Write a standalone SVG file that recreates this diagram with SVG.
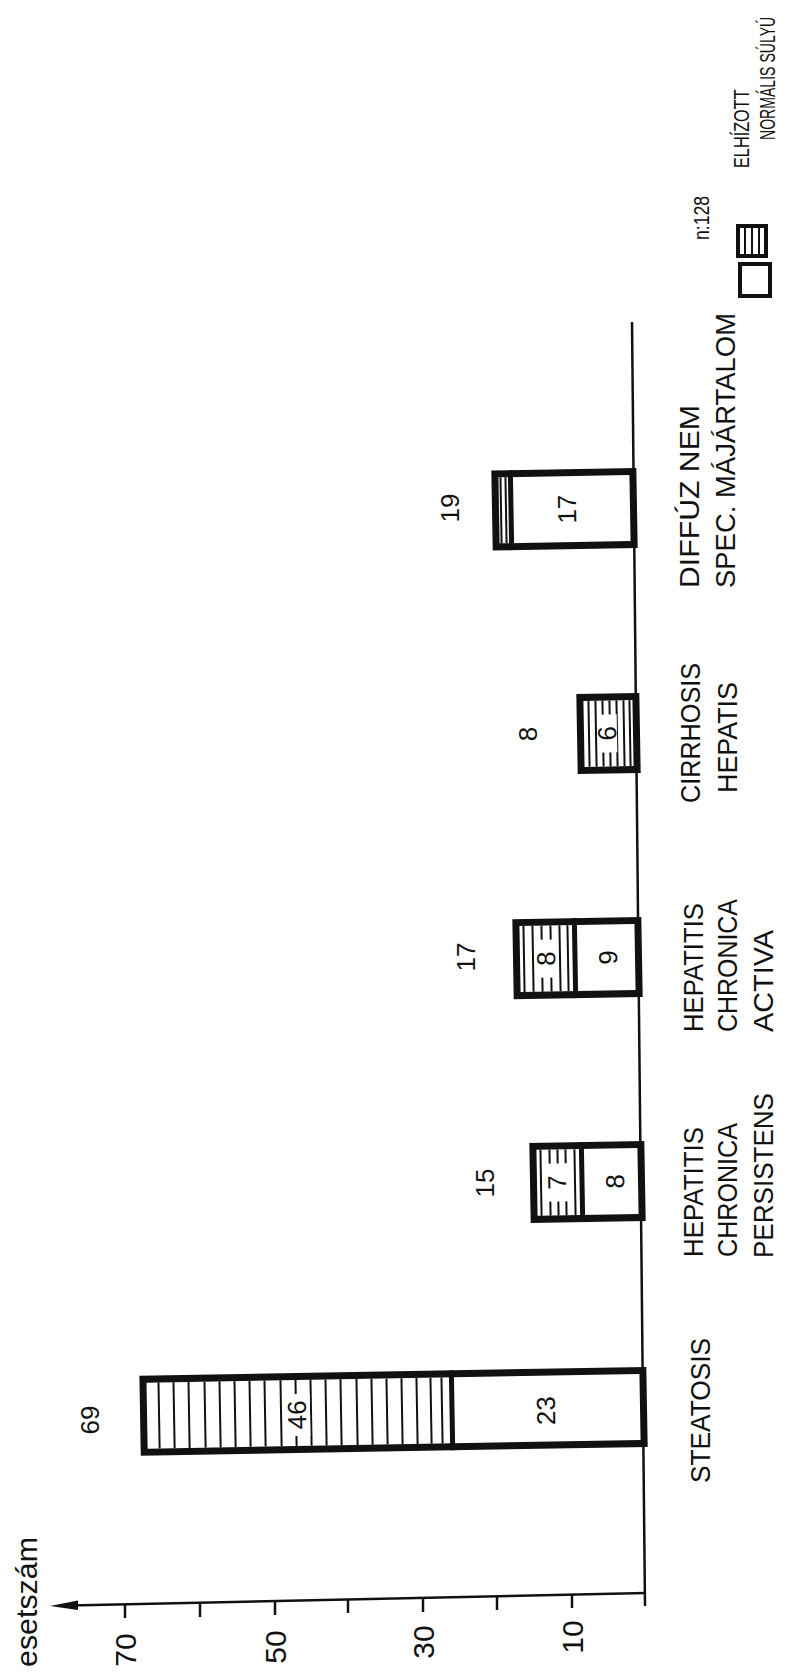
<svg xmlns="http://www.w3.org/2000/svg" width="789" height="1678" viewBox="0 0 789 1678">
<style>
text{font-family:"Liberation Sans","DejaVu Sans",sans-serif;fill:#111}
.num{font-size:26px;text-anchor:middle}
.tick{font-size:30px;text-anchor:middle}
.cat{font-size:28px}
.leg{font-size:22px}
.bar{fill:#fff;stroke:#111;stroke-width:7}
.div{stroke:#111;stroke-width:5}
.h{stroke:#111;stroke-width:2}
.ax{stroke:#111;stroke-width:2.5;fill:none}
.wb{fill:#fff}
</style>
<rect width="789" height="1678" fill="#fff"/>
<g id="axes">
<line class="ax" x1="632" y1="322" x2="645" y2="1606"/>
<line class="ax" x1="70" y1="1605.5" x2="646" y2="1593"/>
<polygon points="50,1606 78,1600.5 78,1610" fill="#111"/>
<g class="ax">
<line x1="125" y1="1604.4" x2="125" y2="1618"/>
<line x1="200" y1="1602.7" x2="200" y2="1617"/>
<line x1="275" y1="1601" x2="275" y2="1615"/>
<line x1="348" y1="1599.5" x2="348" y2="1613"/>
<line x1="423" y1="1597.9" x2="423" y2="1612"/>
<line x1="497" y1="1596.3" x2="497" y2="1610"/>
<line x1="572" y1="1594.6" x2="572" y2="1608"/>
</g>
<text class="tick" transform="translate(136,1650) rotate(-90)">70</text>
<text class="tick" transform="translate(286,1647) rotate(-90)">50</text>
<text class="tick" transform="translate(434,1642) rotate(-90)">30</text>
<text class="tick" transform="translate(583,1637) rotate(-90)">10</text>
<text style="font-size:30px" transform="translate(37,1667) rotate(-90)" textLength="130" lengthAdjust="spacingAndGlyphs">esetszám</text>
</g>
<g id="bar-steatosis" transform="rotate(-1 643 1407)">
<rect class="bar" x="143.5" y="1370.5" width="500" height="73"/>
<g class="h">
<line x1="159" y1="1374" x2="159" y2="1440"/><line x1="174" y1="1374" x2="174" y2="1440"/>
<line x1="189" y1="1374" x2="189" y2="1440"/><line x1="205" y1="1374" x2="205" y2="1440"/>
<line x1="220" y1="1374" x2="220" y2="1440"/><line x1="235" y1="1374" x2="235" y2="1440"/>
<line x1="250" y1="1374" x2="250" y2="1440"/><line x1="265" y1="1374" x2="265" y2="1440"/>
<line x1="281" y1="1374" x2="281" y2="1440"/><line x1="296" y1="1374" x2="296" y2="1440"/>
<line x1="311" y1="1374" x2="311" y2="1440"/><line x1="326" y1="1374" x2="326" y2="1440"/>
<line x1="341" y1="1374" x2="341" y2="1440"/><line x1="357" y1="1374" x2="357" y2="1440"/>
<line x1="372" y1="1374" x2="372" y2="1440"/><line x1="387" y1="1374" x2="387" y2="1440"/>
<line x1="402" y1="1374" x2="402" y2="1440"/><line x1="417" y1="1374" x2="417" y2="1440"/>
<line x1="431" y1="1374" x2="431" y2="1440"/><line x1="442" y1="1374" x2="442" y2="1440"/>
</g>
<line class="div" x1="452" y1="1367" x2="452" y2="1447"/>
<rect class="wb" x="283" y="1388" width="27" height="42"/>
<text class="num" transform="translate(306,1409) rotate(-90)">46</text>
<text class="num" transform="translate(555,1409) rotate(-90)">23</text>
</g>
<text class="num" transform="translate(99,1420) rotate(-90)">69</text>
<g id="bar-persistens" transform="rotate(-1 641 1181)">
<rect class="bar" x="533.5" y="1144.5" width="108" height="73"/>
<g class="h">
<line x1="541" y1="1148" x2="541" y2="1214"/><line x1="550" y1="1148" x2="550" y2="1214"/>
<line x1="558" y1="1148" x2="558" y2="1214"/><line x1="566" y1="1148" x2="566" y2="1214"/>
<line x1="575" y1="1148" x2="575" y2="1214"/>
</g>
<line class="div" x1="582" y1="1141" x2="582" y2="1221"/>
<rect class="wb" x="545" y="1162" width="25" height="38"/>
<text class="num" transform="translate(566,1181) rotate(-90)">7</text>
<text class="num" transform="translate(624,1181) rotate(-90)">8</text>
</g>
<text class="num" transform="translate(494,1183) rotate(-90)">15</text>
<g id="bar-activa" transform="rotate(-1 638 957)">
<rect class="bar" x="516.5" y="920.5" width="122" height="73"/>
<g class="h">
<line x1="524" y1="924" x2="524" y2="990"/><line x1="533" y1="924" x2="533" y2="990"/>
<line x1="542" y1="924" x2="542" y2="990"/><line x1="551" y1="924" x2="551" y2="990"/>
<line x1="560" y1="924" x2="560" y2="990"/><line x1="568" y1="924" x2="568" y2="990"/>
</g>
<line class="div" x1="575" y1="917" x2="575" y2="997"/>
<rect class="wb" x="535" y="938" width="23" height="38"/>
<text class="num" transform="translate(555,957) rotate(-90)">8</text>
<text class="num" transform="translate(617,957) rotate(-90)">9</text>
</g>
<text class="num" transform="translate(475,957) rotate(-90)">17</text>
<g id="bar-cirrhosis" transform="rotate(-1 636 733)">
<rect class="bar" x="580.5" y="696.5" width="56" height="73"/>
<g class="h">
<line x1="589" y1="700" x2="589" y2="766"/><line x1="596" y1="700" x2="596" y2="766"/>
<line x1="603" y1="700" x2="603" y2="766"/><line x1="610" y1="700" x2="610" y2="766"/>
<line x1="617" y1="700" x2="617" y2="766"/><line x1="624" y1="700" x2="624" y2="766"/>
<line x1="630" y1="700" x2="630" y2="766"/>
</g>
<rect class="wb" x="598" y="714" width="19" height="38"/>
<text class="num" transform="translate(616,733) rotate(-90)">6</text>
</g>
<text class="num" transform="translate(537,734) rotate(-90)">8</text>
<g id="bar-diffuz" transform="rotate(-1 634 508)">
<rect class="bar" x="495.5" y="471.5" width="138" height="73"/>
<g class="h">
<line x1="501" y1="475" x2="501" y2="541"/><line x1="506" y1="475" x2="506" y2="541"/>
</g>
<line class="div" stroke-width="4" x1="511" y1="468" x2="511" y2="548"/>
<text class="num" transform="translate(576,508) rotate(-90)">17</text>
</g>
<text class="num" transform="translate(459,508) rotate(-90)">19</text>
<g id="labels">
<text class="cat" transform="translate(710,1483) rotate(-90)" textLength="145" lengthAdjust="spacingAndGlyphs">STEATOSIS</text>
<text class="cat" transform="translate(703,1257) rotate(-90)" textLength="130" lengthAdjust="spacingAndGlyphs">HEPATITIS</text>
<text class="cat" transform="translate(737,1257) rotate(-90)" textLength="134" lengthAdjust="spacingAndGlyphs">CHRONICA</text>
<text class="cat" transform="translate(773,1258) rotate(-90)" textLength="165" lengthAdjust="spacingAndGlyphs">PERSISTENS</text>
<text class="cat" transform="translate(703,1032) rotate(-90)" textLength="129" lengthAdjust="spacingAndGlyphs">HEPATITIS</text>
<text class="cat" transform="translate(737,1032) rotate(-90)" textLength="133" lengthAdjust="spacingAndGlyphs">CHRONICA</text>
<text class="cat" transform="translate(773,1032) rotate(-90)" textLength="102" lengthAdjust="spacingAndGlyphs">ACTIVA</text>
<text class="cat" transform="translate(700,803) rotate(-90)" textLength="140" lengthAdjust="spacingAndGlyphs">CIRRHOSIS</text>
<text class="cat" transform="translate(737,793) rotate(-90)" textLength="111" lengthAdjust="spacingAndGlyphs">HEPATIS</text>
<text class="cat" transform="translate(699,588) rotate(-90)" textLength="183" lengthAdjust="spacingAndGlyphs">DIFFÚZ NEM</text>
<text class="cat" transform="translate(735,588) rotate(-90)" textLength="275" lengthAdjust="spacingAndGlyphs">SPEC. MÁJÁRTALOM</text>
</g>
<g id="legend">
<rect x="738" y="226" width="28" height="30" fill="#fff" stroke="#111" stroke-width="4"/>
<g class="h"><line x1="745" y1="228" x2="745" y2="254"/><line x1="752" y1="228" x2="752" y2="254"/><line x1="759" y1="228" x2="759" y2="254"/></g>
<rect x="740" y="264" width="30" height="32" fill="#fff" stroke="#111" stroke-width="4"/>
<text class="leg" transform="translate(749,168) rotate(-90) scale(0.74,1)">ELHÍZOTT</text>
<text class="leg" transform="translate(775,140) rotate(-90) scale(0.64,1)">NORMÁLIS SÚLYÚ</text>
<text class="leg" transform="translate(709,240) rotate(-90) scale(0.8,1)">n:128</text>
</g>
</svg>
